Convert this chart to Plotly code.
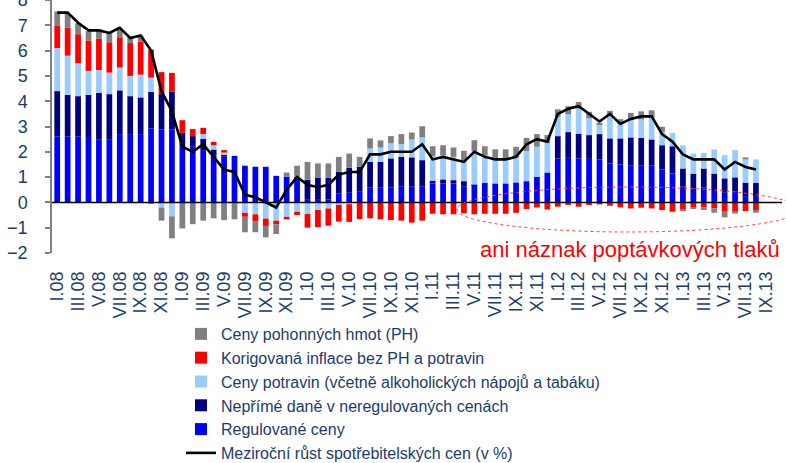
import plotly.graph_objects as go

# Categories (months I.08 .. X.13); data exist for I.08 .. VIII.13
months = [
    "I.08","II.08","III.08","IV.08","V.08","VI.08","VII.08","VIII.08","IX.08","X.08","XI.08","XII.08",
    "I.09","II.09","III.09","IV.09","V.09","VI.09","VII.09","VIII.09","IX.09","X.09","XI.09","XII.09",
    "I.10","II.10","III.10","IV.10","V.10","VI.10","VII.10","VIII.10","IX.10","X.10","XI.10","XII.10",
    "I.11","II.11","III.11","IV.11","V.11","VI.11","VII.11","VIII.11","IX.11","X.11","XI.11","XII.11",
    "I.12","II.12","III.12","IV.12","V.12","VI.12","VII.12","VIII.12","IX.12","X.12","XI.12","XII.12",
    "I.13","II.13","III.13","IV.13","V.13","VI.13","VII.13","VIII.13","IX.13","X.13",
]
data_months = months[:68]

tick_labels = [
    "I.08","III.08","V.08","VII.08","IX.08","XI.08",
    "I.09","III.09","V.09","VII.09","IX.09","XI.09",
    "I.10","III.10","V.10","VII.10","IX.10","XI.10",
    "I.11","III.11","V.11","VII.11","IX.11","XI.11",
    "I.12","III.12","V.12","VII.12","IX.12","XI.12",
    "I.13","III.13","V.13","VII.13","IX.13",
]

regulovane = [2.6,2.6,2.6,2.55,2.5,2.5,2.7,2.7,2.7,2.92,2.88,2.88,
              2.2,2.2,2.04,1.87,1.8,1.84,1.45,1.41,1.41,1.05,1.01,1.01,
              0.13,0.1,0.12,0.36,0.38,0.42,0.6,0.6,0.6,0.64,0.62,0.62,
              0.75,0.75,0.75,0.64,0.67,0.78,0.75,0.75,0.79,0.84,1.01,1.18,
              1.74,1.76,1.74,1.72,1.7,1.54,1.5,1.47,1.47,1.47,1.3,1.14,
              0.62,0.55,0.58,0.49,0.38,0.42,0.22,0.22]
neprime_dane = [1.8,1.65,1.6,1.7,1.83,1.78,1.73,1.5,1.45,1.45,1.4,1.49,
                0.55,0.42,0.47,0.22,0.1,0,0,0,0,0,0,0,
                0.77,0.87,0.85,0.85,0.99,0.99,1.0,1.0,1.14,1.16,1.16,1.05,
                0.11,0.16,0.13,0.2,0.03,0,0,0,0,0,0,0,
                0.88,1.02,0.98,0.94,1.0,0.99,1.03,1.1,1.08,1.02,0.96,1.08,
                0.72,0.59,0.76,0.65,0.57,0.57,0.56,0.56]
potraviny = [1.7,1.55,1.3,0.95,0.9,0.85,0.9,0.8,0.9,0.56,-0.2,-0.55,
             0,0,0.19,0.17,0.07,0,-0.41,-0.47,-0.64,-0.72,-0.57,-0.37,
             -0.46,-0.3,-0.24,-0.1,-0.07,0,0.53,0.57,0.6,0.5,0.71,0.9,
             0.97,0.96,0.92,0.8,1.33,1.09,0.99,0.99,1.01,1.19,1.19,1.18,
             0.76,0.71,0.99,0.66,0.38,0.92,0.63,0.68,0.73,0.83,0.53,0.53,
             0.92,0.79,0.62,0.95,0.92,1.08,0.92,0.92]
korigovana = [0.9,1.1,1.15,1.2,1.25,1.2,1.2,1.3,1.3,1.11,0.87,0.75,
              0.5,0.28,0.25,0.13,0.1,0,-0.16,-0.27,-0.29,-0.15,-0.1,-0.13,
              -0.54,-0.68,-0.68,-0.66,-0.7,-0.66,-0.63,-0.67,-0.7,-0.72,-0.8,-0.72,
              -0.45,-0.47,-0.47,-0.43,-0.47,-0.45,-0.45,-0.45,-0.41,-0.26,-0.2,-0.28,
              -0.17,-0.1,-0.17,-0.1,-0.08,-0.13,-0.2,-0.24,-0.21,-0.24,-0.3,-0.37,
              -0.28,-0.2,-0.2,-0.24,-0.37,-0.37,-0.34,-0.3]
pohonne_hmoty = [0.55,0.55,0.43,0.37,0.35,0.4,0.35,0.23,0.25,-0.05,-0.52,-0.87,
                 -1.03,-0.86,-0.72,-0.63,-0.7,-0.67,-0.61,-0.44,-0.45,-0.38,0.17,0.44,
                 0.7,0.57,0.57,0.59,0.56,0.39,0.4,0.28,0.28,0.4,0.27,0.44,
                 0.39,0.39,0.37,0.4,0.43,0.35,0.36,0.36,0.4,0.52,0.5,0.3,
                 0.3,0.31,0.26,0.26,0.07,0.17,0.13,0.29,0.32,0.32,0.2,0,
                 -0.07,-0.06,-0.1,-0.17,-0.22,-0.07,0.08,-0.11]
cpi = [7.5,7.5,7.1,6.8,6.8,6.7,6.9,6.5,6.6,6.0,4.4,3.6,
       2.2,2.0,2.3,1.8,1.3,1.2,0.3,0.2,0.0,-0.2,0.5,1.0,
       0.7,0.6,0.7,1.1,1.2,1.2,1.9,1.9,2.0,2.0,2.0,2.3,
       1.7,1.8,1.7,1.6,2.0,1.8,1.7,1.7,1.8,2.3,2.5,2.4,
       3.5,3.7,3.8,3.5,3.2,3.5,3.1,3.3,3.4,3.4,2.7,2.4,
       1.9,1.7,1.7,1.7,1.3,1.6,1.4,1.3]

TEXT = "#1B3C6B"
FONT = "Liberation Sans"

series = [
    ("Regulované ceny", regulovane, "#0000FF", 5),
    ("Nepřímé daně v neregulovaných cenách", neprime_dane, "#000080", 4),
    ("Ceny potravin (včetně alkoholických nápojů a tabáku)", potraviny, "#99CCFF", 3),
    ("Korigovaná inflace bez PH a potravin", korigovana, "#FF0000", 2),
    ("Ceny pohonných hmot (PH)", pohonne_hmoty, "#808080", 1),
]

fig = go.Figure()
for name, vals, color, rank in series:
    fig.add_trace(go.Bar(x=data_months, y=vals, name=name, marker_color=color,
                         marker_line_width=0, legendrank=rank))
fig.add_trace(go.Scatter(x=data_months, y=cpi, mode="lines",
                         name="Meziroční růst spotřebitelských cen (v %)",
                         line=dict(color="black", width=2.6), legendrank=6))

W, H = 786, 463
L, R, T, B = 52, 4, 0, 210
pw = W - L - R
ph = H - T - B

def px_x(p):
    return (p - L) / pw

def px_y(p):
    return (H - B - p) / ph

fig.update_layout(
    width=W, height=H,
    margin=dict(l=L, r=R, t=T, b=B, pad=0, autoexpand=False),
    barmode="relative", bargap=0.45,
    plot_bgcolor="white", paper_bgcolor="white",
    font=dict(family=FONT, color=TEXT, size=16),
    showlegend=True,
    legend=dict(x=px_x(181), y=px_y(317), xanchor="left", yanchor="top",
                traceorder="normal", font=dict(size=16, color=TEXT, family=FONT),
                bgcolor="rgba(0,0,0,0)", borderwidth=0, tracegroupgap=0),
    xaxis=dict(type="category", categoryorder="array", categoryarray=months,
               range=[-0.5, len(months) - 0.5], automargin=False,
               tickmode="array", tickvals=tick_labels, ticktext=tick_labels,
               tickangle=-90, tickfont=dict(size=18, color=TEXT, family=FONT),
               showgrid=False, zeroline=False, showline=False, ticks="",
               ticklabelstandoff=14),
    yaxis=dict(range=[-2, 8.001], tickmode="array", automargin=False,
               tickvals=[-2, -1, 0, 1, 2, 3, 4, 5, 6, 7, 8],
               showgrid=False,
               zeroline=False, showline=True, linecolor="#808080", linewidth=1.5,
               ticks="outside", ticklen=5, tickcolor="#808080", tickwidth=1.5,
               tickfont=dict(size=18, color=TEXT, family=FONT),
               ticklabelstandoff=14, ticklabeloverflow="allow"),
    shapes=[
        dict(type="line", xref="paper", yref="y", x0=0, x1=1, y0=0, y1=0,
             line=dict(color="black", width=1.5), layer="above"),
        dict(type="circle", xref="paper", yref="paper",
             x0=px_x(457), x1=px_x(799), y0=px_y(232), y1=px_y(187),
             line=dict(color="#FF3B3B", width=1, dash="dot"), layer="above"),
    ],
    annotations=[
        dict(text="ani náznak poptávkových tlaků", xref="paper", yref="paper",
             x=px_x(478), y=px_y(249), xanchor="left", yanchor="middle",
             showarrow=False, font=dict(size=22, color="#FF0000", family=FONT)),
    ],
)

fig.write_html("out.html", config={"displayModeBar": False},
               post_script="document.body.style.margin='0';document.body.style.padding='0';")
